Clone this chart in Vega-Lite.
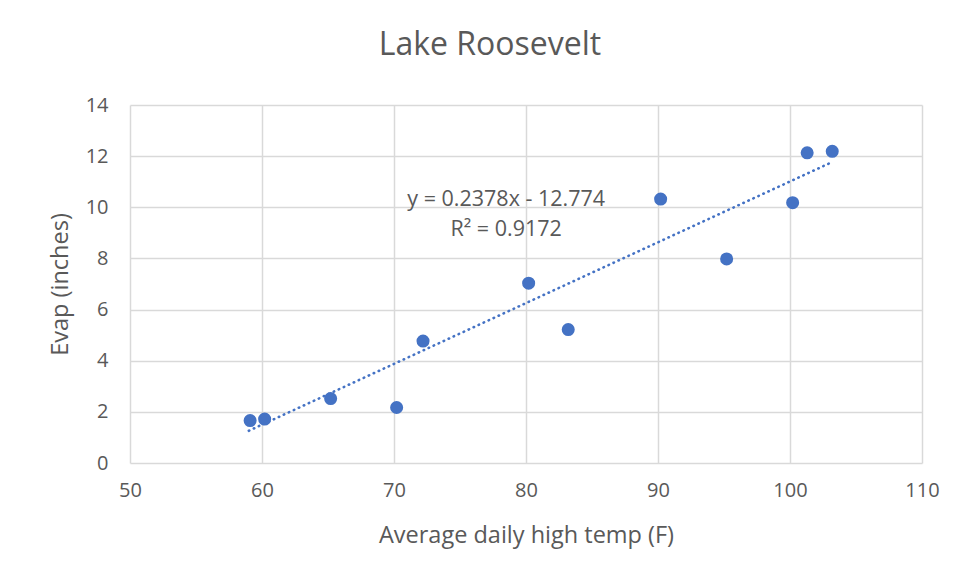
{
  "$schema": "https://vega.github.io/schema/vega-lite/v6.json",
  "width": 792,
  "height": 358,
  "autosize": {"type": "none"},
  "padding": {"left": 130, "top": 105, "right": 38, "bottom": 118},
  "background": "white",
  "config": {
    "font": "Open Sans",
    "view": {"stroke": null},
    "axis": {
      "gridColor": "#d9d9d9",
      "gridWidth": 1.5,
      "domain": false,
      "ticks": false,
      "labelFlush": false,
      "labelColor": "#595959",
      "labelFontSize": 20,
      "titleColor": "#595959",
      "titleFontSize": 23.5,
      "titleFontWeight": "normal"
    }
  },
  "title": {
    "text": "Lake Roosevelt",
    "fontSize": 32,
    "fontWeight": "normal",
    "color": "#595959",
    "anchor": "middle",
    "dx": -36,
    "offset": 33
  },
  "datasets": {
    "pts": [
      {"temp": 59.1, "evap": 1.66},
      {"temp": 60.2, "evap": 1.72},
      {"temp": 65.2, "evap": 2.52},
      {"temp": 70.2, "evap": 2.17},
      {"temp": 72.2, "evap": 4.77},
      {"temp": 80.2, "evap": 7.03},
      {"temp": 83.2, "evap": 5.22},
      {"temp": 90.2, "evap": 10.32},
      {"temp": 95.2, "evap": 7.98},
      {"temp": 100.2, "evap": 10.18},
      {"temp": 101.3, "evap": 12.13},
      {"temp": 103.2, "evap": 12.19}
    ],
    "trend": [
      {"temp": 59.0, "evap": 1.26},
      {"temp": 103.2, "evap": 11.77}
    ],
    "labels": [
      {"temp": 78.5, "evap": 10.27, "label": "y = 0.2378x - 12.774"},
      {"temp": 78.5, "evap": 9.12, "label": "R² = 0.9172"}
    ]
  },
  "layer": [
    {
      "data": {"name": "trend"},
      "mark": {"type": "line", "color": "#4472C4", "strokeWidth": 2.6, "strokeDash": [0.5, 5], "strokeCap": "round"},
      "encoding": {
        "x": {"field": "temp", "type": "quantitative", "scale": {"domain": [50, 110], "nice": false, "zero": false}, "axis": {"values": [50, 60, 70, 80, 90, 100, 110], "title": "Average daily high temp (F)", "labelPadding": 17, "titlePadding": 23}},
        "y": {"field": "evap", "type": "quantitative", "scale": {"domain": [0, 14], "nice": false}, "axis": {"values": [0, 2, 4, 6, 8, 10, 12, 14], "title": "Evap (inches)", "labelPadding": 22, "titlePadding": 13}}
      }
    },
    {
      "data": {"name": "pts"},
      "mark": {"type": "circle", "color": "#4472C4", "opacity": 1, "size": 170},
      "encoding": {
        "x": {"field": "temp", "type": "quantitative"},
        "y": {"field": "evap", "type": "quantitative"}
      }
    },
    {
      "data": {"name": "labels"},
      "mark": {"type": "text", "fontSize": 21.5, "color": "#595959", "align": "center", "baseline": "middle"},
      "encoding": {
        "x": {"field": "temp", "type": "quantitative"},
        "y": {"field": "evap", "type": "quantitative"},
        "text": {"field": "label"}
      }
    }
  ]
}
